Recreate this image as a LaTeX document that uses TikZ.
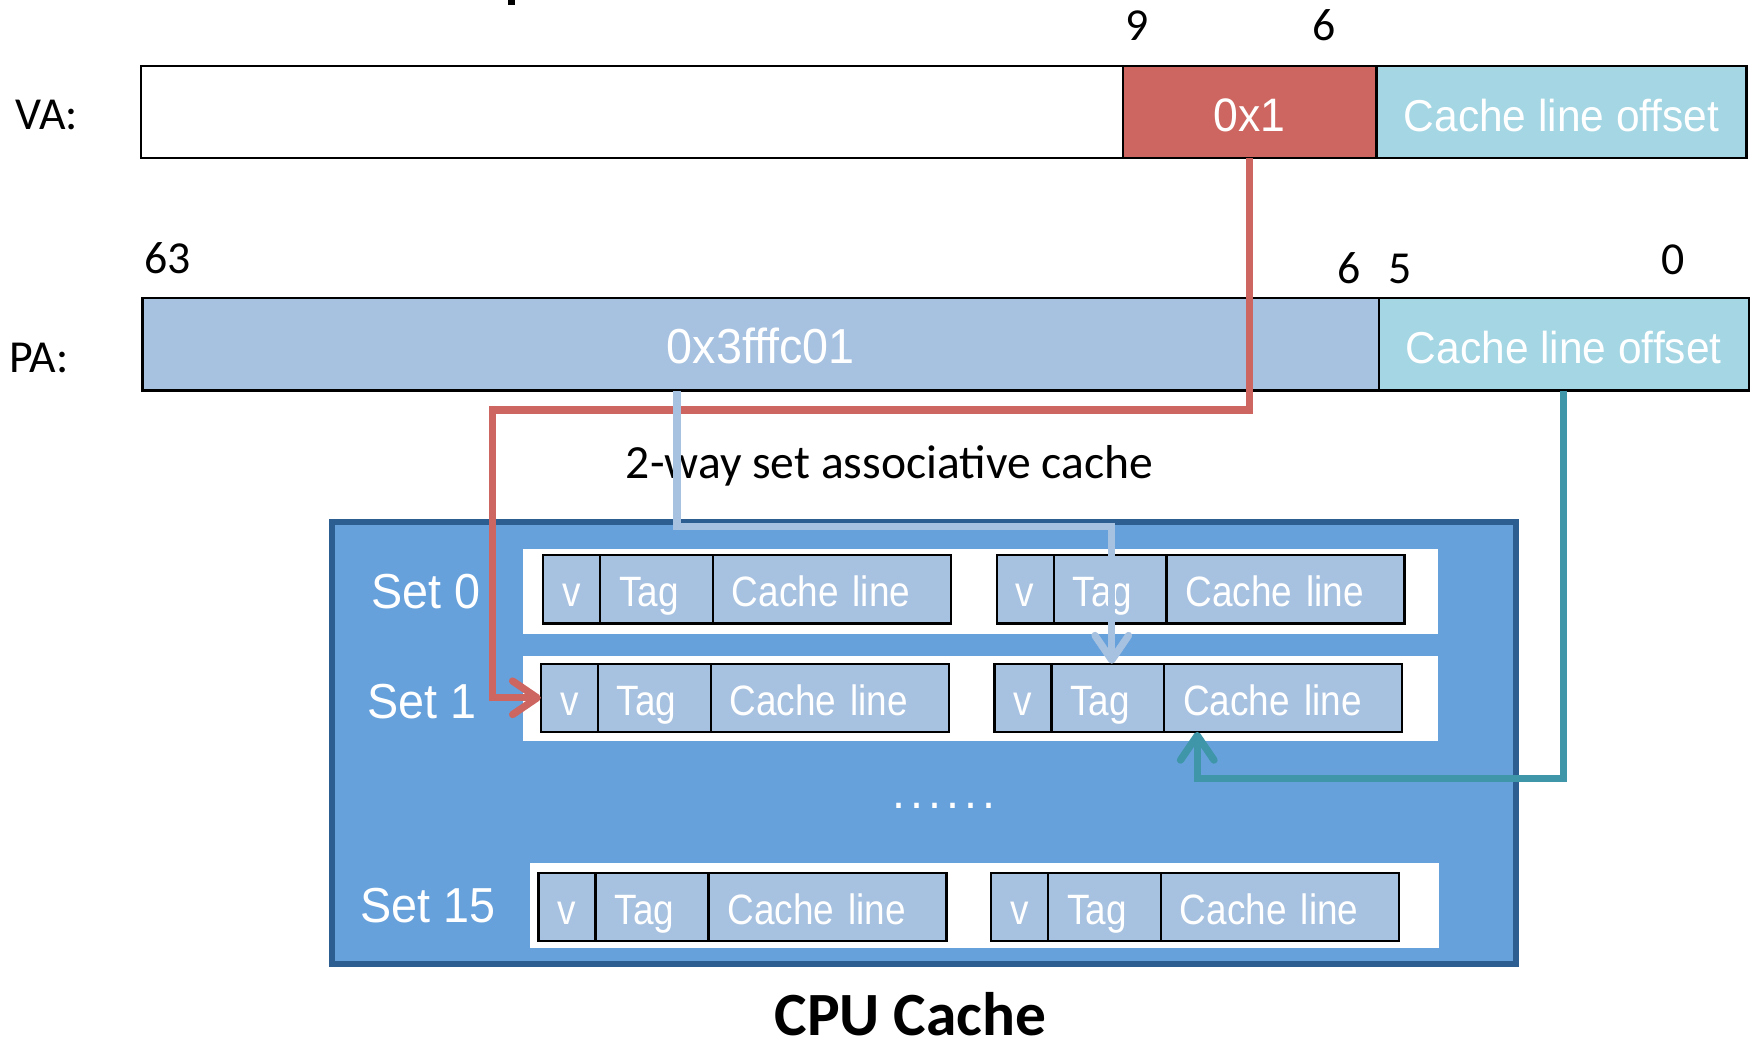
\documentclass[tikz,border=0pt]{standalone}
\usepackage{fontspec}
\setmainfont{Carlito}
\newfontfamily\narrowsans[FakeStretch=0.87]{Liberation Sans}
\newfontfamily\labelsans[FakeStretch=0.95]{Liberation Sans}
\newfontfamily\dotsans[FakeStretch=0.95,LetterSpace=10]{Liberation Sans}
\usetikzlibrary{arrows.meta}

\definecolor{idxred}{RGB}{205,102,96}
\definecolor{offcyan}{RGB}{164,214,228}
\definecolor{cellblue}{RGB}{167,193,224}
\definecolor{cachebg}{RGB}{102,161,220}
\definecolor{cacheedge}{RGB}{44,94,145}
\definecolor{offteal}{RGB}{62,150,168}

% one way of a set: valid bit, tag and data
\newcommand\cacheway[3]{%
  \node[vcell] (#1v) at (#2,#3) {v};
  \node[tagcell] (#1t) at (#1v.north east) {Tag};
  \node[linecell] (#1c) at (#1t.north east) {Cache line};
}

\begin{document}
\begin{tikzpicture}[x=1pt,y=-1pt,
  field/.style={draw=black, line width=2pt, inner sep=0pt, outer sep=0pt,
    minimum height=82.5pt, anchor=north west, text=white,
    font=\labelsans\fontsize{40}{42}\selectfont, text height=36pt, text depth=2pt},
  lbl/.style={font=\fontsize{41}{44}\selectfont, inner sep=0pt, anchor=base},
  cellbase/.style={draw=black, line width=2pt, fill=cellblue, minimum height=61pt,
    inner sep=0pt, outer sep=0pt, text=white, anchor=north west,
    font=\narrowsans\fontsize{38}{40}\selectfont, text height=35pt, text depth=4pt},
  vcell/.style={cellbase, minimum width=51pt, align=center},
  tagcell/.style={cellbase, inner xsep=17pt, text width=67pt, align=left},
  linecell/.style={cellbase, inner xsep=17pt, text width=179pt, align=left},
  setlbl/.style={text=white, font=\labelsans\fontsize{44}{46}\selectfont,
    inner sep=0pt, anchor=base west},
  cachebox/.style={draw=cacheedge, line width=5pt, fill=cachebg, anchor=north west,
    minimum width=1060pt, minimum height=396pt, inner sep=0pt, outer sep=0pt},
  conn/.style={line width=6.5pt, -{Straight Barb[length=22pt,width=30pt,round]}},
]
\useasboundingbox (0,0) rectangle (1568,935);

% descender of a caption above the frame
\fill (455,0) rectangle (461,4.5);

% virtual address
\node[field, minimum width=879pt, fill=white] (vahigh) at (126,59) {};
\node[field, minimum width=227pt, fill=idxred,
  font=\labelsans\fontsize{42}{44}\selectfont] (vaidx) at (vahigh.north east) {0x1};
\node[field, minimum width=331pt, fill=offcyan] (vaoff) at (vaidx.north east) {Cache line offset};
\node[lbl, anchor=base west] (valbl) at (13.4,116) {VA:};
\node[lbl] (va9) at (1018,36) {9};
\node[lbl] (va6) at (1185,36) {6};

% physical address
\node[field, minimum width=1106.5pt, fill=cellblue,
  font=\labelsans\fontsize{44}{46}\selectfont] (pahigh) at (127.5,267) {0x3fffc01};
\node[field, minimum width=331pt, fill=offcyan] (paoff) at (pahigh.north east) {Cache line offset};
\node[lbl, anchor=base west] (palbl) at (8,333) {PA:};
\node[lbl] (pa63) at (150,245) {63};
\node[lbl] (pa6) at (1207.5,254) {6};
\node[lbl] (pa5) at (1253,254) {5};
\node[lbl] (pa0) at (1497.5,246) {0};

\node[lbl, anchor=base west, font=\fontsize{42.6}{45}\selectfont] (assoc) at (560,428)
  {2-way set associative cache};

% the cache
\node[cachebox] (cache) at (297,467) {};
\fill[white] (468,491) rectangle (1287,567);
\fill[white] (468,587) rectangle (1287,663);
\fill[white] (474,772) rectangle (1288,848);

\cacheway{s0a}{486}{497}
\cacheway{s0b}{892}{497}
\cacheway{s1a}{484}{594}
\cacheway{s1b}{890}{594}
\cacheway{s15a}{482}{781}
\cacheway{s15b}{887}{781}

\node[setlbl] (set0) at (332,544.4) {Set 0};
\node[setlbl] (set1) at (328.5,643) {Set 1};
\node[setlbl] (set15) at (322,826) {Set 15};
\node[text=white, font=\dotsans\fontsize{44}{46}\selectfont, inner sep=0pt, anchor=base]
  (more) at (845,724) {......};

\node[lbl, font=\bfseries\fontsize{55}{58}\selectfont] (title) at (815,927) {CPU Cache};

% index bits select the set
\coordinate (r1) at (441,367);
\draw[conn, draw=idxred] (vaidx.south) |- (r1) |- (s1av.west);
% tag bits are compared with the stored tag
\coordinate (b1) at (995,471);
\draw[conn, draw=cellblue] ([xshift=478.5pt]pahigh.south west) |- (b1) -- (b1 |- s1bt.north);
% offset picks the bytes in the line
\coordinate (t1) at (1071.5,697);
\draw[conn, draw=offteal] (paoff.south) |- (t1) -- (t1 |- s1bc.south);
\end{tikzpicture}
\end{document}
